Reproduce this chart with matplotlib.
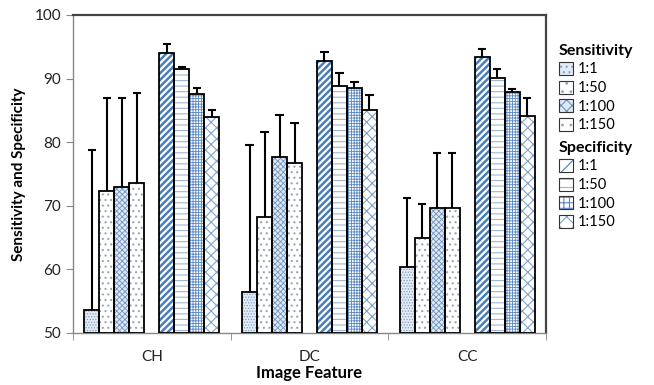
import matplotlib
matplotlib.use("Agg")
import matplotlib.pyplot as plt
from matplotlib.patches import Patch
from matplotlib.legend_handler import HandlerTuple
import numpy as np

categories = ["CH", "DC", "CC"]
ratios = ["1:1", "1:50", "1:100", "1:150"]

sens_vals = [
    [53.6, 56.5, 60.4],   # 1:1
    [72.3, 68.3, 65.0],   # 1:50
    [72.9, 77.6, 69.6],   # 1:100
    [73.6, 76.7, 69.6],   # 1:150
]
sens_err_top = [
    [78.7, 79.5, 71.3],
    [87.0, 81.6, 70.3],
    [87.0, 84.3, 78.3],
    [87.7, 83.0, 78.3],
]
spec_vals = [
    [94.1, 92.8, 93.4],
    [91.5, 88.9, 90.1],
    [87.6, 88.5, 87.9],
    [83.9, 85.0, 84.1],
]
spec_err_top = [
    [95.4, 94.2, 94.6],
    [91.9, 90.9, 91.5],
    [88.5, 89.5, 88.3],
    [85.0, 87.4, 87.0],
]

plt.rcParams['font.family'] = ['Lato', 'DejaVu Sans']
plt.rcParams['hatch.linewidth'] = 0.8

BLUE = "#4a7ebb"
LBLUE = "#7fa3cf"
GRAY = "#9aa6b6"
# (hatch, hatch colour, face colour, hatch linewidth)
sens_style = [("......", LBLUE, "#e3eaf3", 0.6), ("...", GRAY, "white", 0.8),
              ("xxxxxx", "#6f95c5", "#dfe8f3", 0.6), ("...", GRAY, "white", 0.8)]
spec_style = [("/////", BLUE, "white", 1.8), ("---", "#9fb6d3", "white", 0.8),
              ("++++++", "#5a88c2", "white", 0.6), ("xxx", LBLUE, "white", 0.8)]

fig = plt.figure(figsize=(6.54, 3.85), dpi=100)
ax = fig.add_axes([73/654, 1-333/385, (546-73)/654, (333-15)/385])

w = 0.095
margin = (1 - 9*w) / 2
x0 = np.arange(len(categories))

def draw(vals, errs, styles, slot_offset):
    for i, (v, e, st) in enumerate(zip(vals, errs, styles)):
        hatch, hc, fc, hlw = st
        xs = x0 + margin + w*(slot_offset + i + 0.5)
        with plt.rc_context({'hatch.linewidth': hlw}):
            bars = ax.bar(xs, np.array(v) - 50, width=w, bottom=50, facecolor=fc, edgecolor=hc,
                          hatch=hatch, linewidth=0, zorder=2)
            for b in bars:
                if hasattr(b, "set_hatch_linewidth"):
                    b.set_hatch_linewidth(hlw)
        ax.bar(xs, np.array(v) - 50, width=w, bottom=50, fill=False, edgecolor="black",
               linewidth=1.3, zorder=3)
        ax.vlines(xs, v, e, color="black", linewidth=1.5, zorder=4)
        ax.hlines(e, xs - w*0.28, xs + w*0.28, color="black", linewidth=1.5, zorder=4)

draw(sens_vals, sens_err_top, sens_style, 0)
draw(spec_vals, spec_err_top, spec_style, 5)

ax.set_xlim(0, 3)
ax.set_ylim(50, 100)
ax.set_yticks([50, 60, 70, 80, 90, 100])
ax.set_xticks([0.5, 1.5, 2.5])
ax.set_xticklabels(categories)
ax.set_xticks([0, 1, 2, 3], minor=True)
ax.tick_params(axis='x', which='major', length=0, pad=12, labelsize=11, colors="#222222")
ax.tick_params(axis='x', which='minor', length=5, color="#888888")
ax.tick_params(axis='y', length=5, color="#888888", labelsize=11, labelcolor="#222222")
for s in ["left", "bottom"]:
    ax.spines[s].set_color("#888888")
    ax.spines[s].set_linewidth(1.0)
for s in ["top", "right"]:
    ax.spines[s].set_color("#444444")
    ax.spines[s].set_linewidth(1.6)

ax.set_ylabel("Sensitivity and Specificity", fontsize=11, fontweight="bold", labelpad=6)
ax.set_xlabel("Image Feature", fontsize=12, fontweight="bold", labelpad=1)

def handles(styles):
    hs = []
    for hatch, hc, fc, hlw in styles:
        with plt.rc_context({'hatch.linewidth': min(hlw, 1.2)}):
            p = Patch(facecolor=fc, edgecolor=hc, hatch=hatch[:max(2, len(hatch)//2)], linewidth=0)
        hs.append((p, Patch(fill=False, edgecolor="#333333", linewidth=0.8)))
    return hs

hm = {tuple: HandlerTuple(ndivide=1, pad=0)}
common = dict(frameon=False, fontsize=10.5, handler_map=hm, handlelength=1.0, handleheight=1.0,
              handletextpad=0.3, labelspacing=0.28, alignment="left", borderaxespad=0,
              title_fontproperties={"weight": "bold", "size": 11.5})
leg1 = fig.legend(handles(sens_style), ratios, title="Sensitivity",
                  loc="upper left", bbox_to_anchor=(553/654, 1-38/385), **common)
leg2 = fig.legend(handles(spec_style), ratios, title="Specificity",
                  loc="upper left", bbox_to_anchor=(553/654, 1-135/385), **common)

fig.savefig("out.png", dpi=100)
